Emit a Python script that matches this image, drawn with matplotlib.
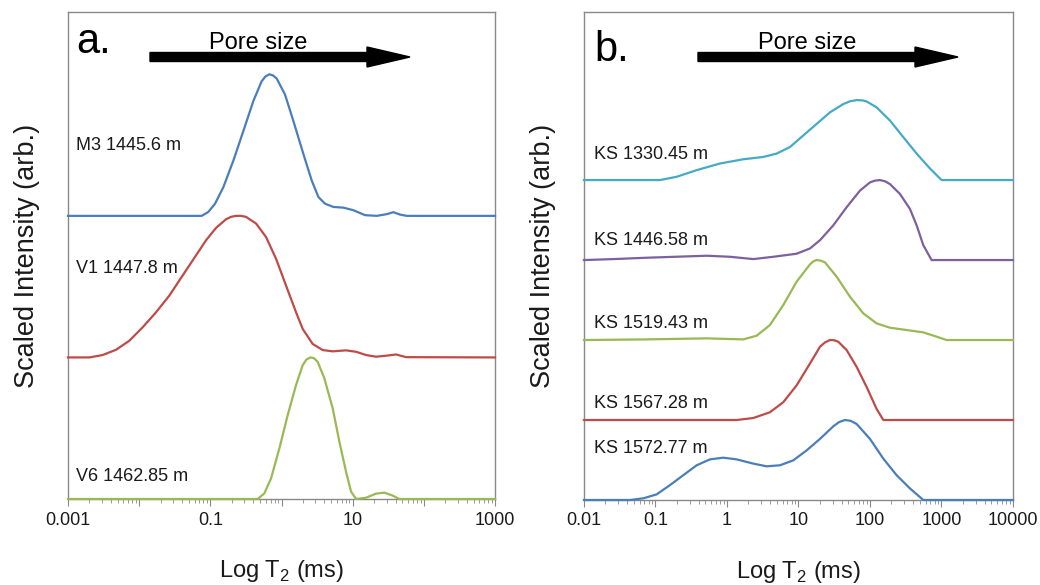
import numpy as np
import matplotlib
matplotlib.use('Agg')
import matplotlib.pyplot as plt

plt.rcParams['font.family'] = ['Liberation Sans', 'DejaVu Sans']
plt.rcParams['mathtext.fontset'] = 'custom'
plt.rcParams['mathtext.rm'] = 'Liberation Sans'

# ---- panel a: log10(T2 / ms) and scaled amplitude ----
m3_logt = [-3.0, -1.121, -1.028, -0.934, -0.817, -0.677, -0.536, -0.396, -0.279,
           -0.225, -0.171, -0.120, -0.068, 0.049, 0.166, 0.307, 0.424, 0.518,
           0.611, 0.728, 0.869, 1.009, 1.173, 1.338, 1.478, 1.572, 1.665,
           1.759, 3.0]
m3_amp = [0, 0, 0.028, 0.086, 0.203, 0.390, 0.600, 0.811, 0.951,
          0.985, 1.0, 0.992, 0.970, 0.857, 0.671, 0.437, 0.250, 0.133,
          0.086, 0.063, 0.058, 0.040, 0.005, 0, 0.012, 0.026, 0.009,
          0, 0]

v1_logt = [-3.0, -2.700, -2.513, -2.326, -2.138, -1.951, -1.763, -1.576, -1.389,
           -1.201, -1.061, -0.920, -0.780, -0.710, -0.639, -0.570, -0.499,
           -0.358, -0.218, -0.077, 0.063, 0.204, 0.298, 0.438, 0.579, 0.719,
           0.906, 1.047, 1.187, 1.328, 1.469, 1.609, 1.750, 3.0]
v1_amp = [0, 0, 0.017, 0.054, 0.118, 0.213, 0.319, 0.437, 0.579,
          0.721, 0.827, 0.915, 0.976, 0.993, 1.0, 1.0, 0.993,
          0.946, 0.851, 0.697, 0.508, 0.319, 0.201, 0.095, 0.052, 0.043,
          0.050, 0.040, 0.017, 0.005, 0.012, 0.021, 0.002, 0]

v6_logt = [-3.0, -0.335, -0.241, -0.147, -0.030, 0.087, 0.204, 0.298, 0.350,
           0.405, 0.455, 0.508, 0.602, 0.719, 0.813, 0.906, 0.977, 1.047,
           1.187, 1.328, 1.445, 1.562, 1.656, 3.0]
v6_amp = [0, 0, 0.040, 0.146, 0.358, 0.593, 0.805, 0.946, 0.985,
          1.0, 0.995, 0.969, 0.852, 0.640, 0.405, 0.193, 0.052, 0,
          0.009, 0.038, 0.045, 0.024, 0, 0]

# ---- panel b ----
ks1330_logt = [-2.0, -0.937, -0.704, -0.424, -0.098, 0.228, 0.508, 0.695, 0.881,
               1.068, 1.254, 1.441, 1.627, 1.720, 1.814, 1.890, 1.954, 2.093,
               2.280, 2.466, 2.653, 2.839, 3.002, 4.0]
ks1330_amp = [0, 0, 0.041, 0.124, 0.207, 0.260, 0.289, 0.331, 0.413,
              0.558, 0.702, 0.847, 0.950, 0.985, 1.0, 0.997, 0.983, 0.909,
              0.744, 0.537, 0.331, 0.145, 0, 0]

ks1446_logt = [-2.0, -1.590, -1.124, -0.284, 0.042, 0.368, 0.648, 0.974, 1.161,
               1.301, 1.487, 1.674, 1.860, 2.000, 2.070, 2.140, 2.210, 2.280,
               2.420, 2.559, 2.653, 2.746, 2.862, 4.0]
ks1446_amp = [0, 0.012, 0.029, 0.054, 0.041, 0.012, 0.041, 0.079, 0.145,
              0.248, 0.434, 0.661, 0.868, 0.971, 0.993, 1.0, 0.985, 0.950,
              0.826, 0.640, 0.434, 0.186, 0, 0]

ks1519_logt = [-2.0, -1.124, -0.284, 0.228, 0.415, 0.601, 0.788, 0.974, 1.161,
               1.210, 1.254, 1.310, 1.371, 1.534, 1.720, 1.907, 2.093, 2.280,
               2.513, 2.746, 2.932, 3.072, 4.0]
ks1519_amp = [0, 0.008, 0.021, 0.008, 0.054, 0.188, 0.438, 0.729, 0.946,
              0.985, 1.0, 0.993, 0.971, 0.792, 0.542, 0.333, 0.208, 0.154,
              0.125, 0.096, 0.042, 0, 0]

ks1567_logt = [-2.0, 0.135, 0.368, 0.601, 0.788, 0.974, 1.161, 1.301, 1.370,
               1.441, 1.500, 1.557, 1.674, 1.814, 1.954, 2.093, 2.187, 4.0]
ks1567_amp = [0, 0, 0.025, 0.097, 0.223, 0.433, 0.706, 0.916, 0.970,
              1.0, 0.997, 0.979, 0.874, 0.664, 0.412, 0.139, 0, 0]

ks1572_logt = [-2.0, -1.357, -1.170, -0.984, -0.797, -0.611, -0.424, -0.238,
               -0.051, 0.135, 0.368, 0.555, 0.741, 0.928, 1.114, 1.301, 1.487,
               1.570, 1.650, 1.730, 1.814, 2.000, 2.187, 2.373, 2.559, 2.746,
               4.0]
ks1572_amp = [0, 0, 0.021, 0.070, 0.186, 0.310, 0.434, 0.508,
              0.529, 0.508, 0.455, 0.421, 0.434, 0.496, 0.620, 0.764, 0.921,
              0.975, 1.0, 0.990, 0.950, 0.764, 0.517, 0.310, 0.145, 0,
              0]

BLUE, RED, GREEN = '#4a7ebb', '#be4b48', '#98b954'
PURPLE, CYAN = '#7d60a0', '#46aac5'
GRAY = '#898989'

fig = plt.figure(figsize=(10.4, 5.85), dpi=100)
ax_a = fig.add_axes([0.0654, 0.147, 0.4106, 0.8325])
ax_b = fig.add_axes([0.5615, 0.1453, 0.4125, 0.834])

panel_a = [(m3_logt, m3_amp, 2.0, BLUE, 'M3 1445.6 m', 2.50),
           (v1_logt, v1_amp, 1.0, RED, 'V1 1447.8 m', 1.63),
           (v6_logt, v6_amp, 0.0, GREEN, 'V6 1462.85 m', 0.16)]
panel_b = [(ks1330_logt, ks1330_amp, 4.0, CYAN, 'KS 1330.45 m', 4.32),
           (ks1446_logt, ks1446_amp, 3.0, PURPLE, 'KS 1446.58 m', 3.25),
           (ks1519_logt, ks1519_amp, 2.0, GREEN, 'KS 1519.43 m', 2.21),
           (ks1567_logt, ks1567_amp, 1.0, RED, 'KS 1567.28 m', 1.21),
           (ks1572_logt, ks1572_amp, 0.0, BLUE, 'KS 1572.77 m', 0.65)]

for ax, series, xlim, ymax, lab_x in [(ax_a, panel_a, (1e-3, 1e3), 3.44, 1.3e-3),
                                       (ax_b, panel_b, (1e-2, 1e4), 6.1, 1.4e-2)]:
    for logt, amp, off, col, name, ly in series:
        ax.plot(10 ** np.array(logt), np.array(amp) + off, color=col, lw=1.6,
                solid_joinstyle='round', clip_on=False, zorder=3)
        ax.text(lab_x, ly, name, fontsize=13, va='center', ha='left',
                color='#1a1a1a')
    ax.set_xscale('log')
    ax.set_xlim(*xlim)
    ax.set_ylim(0, ymax)
    ax.set_yticks([])
    for sp in ax.spines.values():
        sp.set_color(GRAY)
        sp.set_linewidth(1.0)
    ax.tick_params(axis='x', which='major', direction='out', length=5,
                   color=GRAY, labelsize=13, pad=4, labelcolor='#1a1a1a')
    ax.tick_params(axis='x', which='minor', direction='out', length=3,
                   color=GRAY)
    ax.set_xlabel('Log T$_\\mathregular{2}$ (ms)', fontsize=17, labelpad=21,
                  color='#1a1a1a')
    ax.set_ylabel('Scaled Intensity (arb.)', fontsize=19.5, labelpad=20,
                  color='#1a1a1a')

ax_a.set_xticks([1e-3, 1e-2, 1e-1, 1, 10, 100, 1000],
                labels=['0.001', '', '0.1', '', '10', '', '1000'])
ax_b.set_xticks([1e-2, 1e-1, 1, 10, 100, 1000, 1e4],
                labels=['0.01', '0.1', '1', '10', '100', '1000', '10000'])
for ax in (ax_a, ax_b):
    ax.xaxis.set_minor_locator(matplotlib.ticker.LogLocator(base=10, subs=np.arange(2, 10)))
    ax.xaxis.set_minor_formatter(matplotlib.ticker.NullFormatter())

# panel letters, "Pore size" arrows (figure pixel coords)
def fx(px):
    return px / 1040.0

def fy(py):
    return 1 - py / 585.0

fig.text(fx(76), fy(53), 'a.', fontsize=30, ha='left', va='baseline')
fig.text(fx(594), fy(61), 'b.', fontsize=30, ha='left', va='baseline')
for x0, x1, tx in [(150, 410, 258), (698, 958, 807)]:
    fig.text(fx(tx), fy(49), 'Pore size', fontsize=17, ha='center', va='baseline')
    fig.patches.append(matplotlib.patches.FancyArrow(
        fx(x0), fy(57), fx(x1 - x0), 0, width=9 / 585.0, head_width=20 / 585.0,
        head_length=fx(43), length_includes_head=True, color='black',
        transform=fig.transFigure, figure=fig))

fig.savefig('out.png', dpi=100)
